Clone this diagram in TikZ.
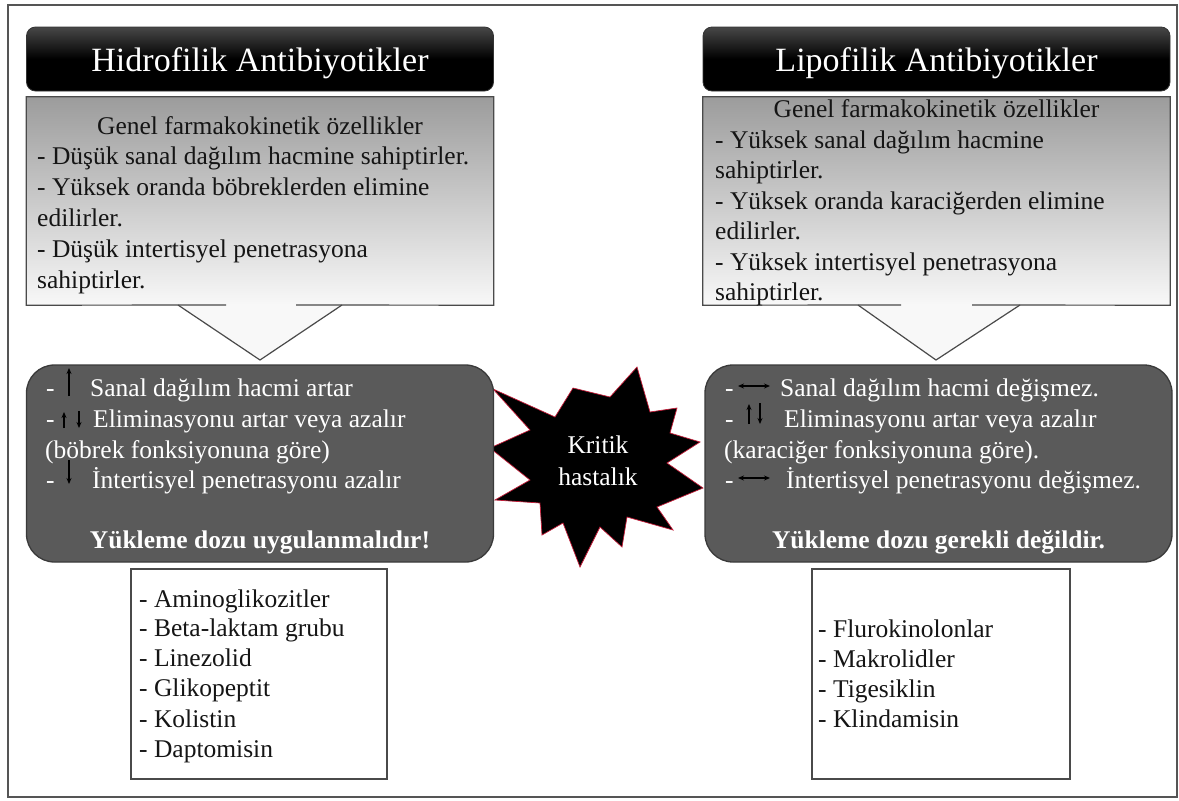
\documentclass[tikz,border=0pt]{standalone}
\usepackage{fontspec}
\setmainfont{Liberation Serif}
\usetikzlibrary{arrows.meta}
\definecolor{framec}{HTML}{555555}
\definecolor{darkfill}{HTML}{5A5A5A}
\definecolor{darkline}{HTML}{3A3A3A}
\definecolor{grayline}{HTML}{4A4A4A}
\definecolor{gtop}{HTML}{9C9C9C}
\definecolor{gbot}{HTML}{F8F8F8}
\definecolor{starred}{HTML}{C41E3A}
\definecolor{inktext}{HTML}{151515}
\tikzset{
  txt/.style={inner sep=0pt, anchor=base west, text=inktext, font=\fontsize{25.5}{30}\selectfont},
  ctxt/.style={txt, anchor=base},
  wtxt/.style={txt, text=white},
  wctxt/.style={ctxt, text=white},
  titlebox/.style={rectangle, rounded corners=9pt, top color=black!72, bottom color=black, middle color=black, draw=black!80, line width=0.8pt, minimum width=467pt, minimum height=64pt, inner sep=0pt},
  titletxt/.style={inner sep=0pt, anchor=base, text=white, font=\fontsize{34}{40}\selectfont},
  graybox/.style={rectangle, top color=gtop, bottom color=gbot, minimum width=467pt, minimum height=208pt, inner sep=0pt},
  darkbox/.style={rectangle, rounded corners=28pt, fill=darkfill, draw=darkline, line width=1.3pt, minimum width=467pt, minimum height=197pt, inner sep=0pt},
  listbox/.style={rectangle, fill=white, draw=grayline, line width=1.5pt, inner sep=0pt},
  outline/.style={draw=grayline, line width=1.2pt},
  arr/.style={-{Stealth[length=6pt,width=5pt]}, line width=1.4pt, black},
  darr/.style={{Stealth[length=6pt,width=5pt]}-{Stealth[length=6pt,width=5pt]}, line width=1.4pt, black},
}
\begin{document}
\begin{tikzpicture}[x=1pt,y=-1pt]
\useasboundingbox (0,0) rectangle (1179,801);
\fill[white] (0,0) rectangle (1179,801);
\draw[framec, line width=1.6pt] (8,5) rectangle (1177,797);

% ---------- titles ----------
\node[titlebox] (ltitle) at (260,59) {};
\node[titletxt] (ltitletxt) at (260,71) {Hidrofilik Antibiyotikler};
\node[titlebox] (rtitle) at (936.5,59) {};
\node[titletxt] (rtitletxt) at (936.5,71) {Lipofilik Antibiyotikler};

% ---------- left gray callout ----------
\node[graybox] (lgray) at (260,201) {};
\fill[gbot] (178,305) -- (260,360) -- (342,305) -- cycle;
\draw[outline] (226,305) -- (lgray.south west) -- (lgray.north west) -- (lgray.north east) -- (lgray.south east) -- (296,305);
\draw[outline] (178,305) -- (260,360) -- (342,305);
\node[ctxt] (lg0) at (260,134) {Genel farmakokinetik özellikler};
\node[txt] (lg1) at (37,164) {- Düşük sanal dağılım hacmine sahiptirler.};
\node[txt] (lg2) at (37,195) {- Yüksek oranda böbreklerden elimine};
\node[txt] (lg3) at (37,226) {edilirler.};
\node[txt] (lg4) at (37,257) {- Düşük intertisyel penetrasyona};
\node[txt] (lg5) at (37,288) {sahiptirler.};

% ---------- right gray callout ----------
\node[graybox] (rgray) at (936.5,201) {};
\fill[gbot] (858,305) -- (936,360) -- (1020,305) -- cycle;
\draw[outline] (901,305) -- (rgray.south west) -- (rgray.north west) -- (rgray.north east) -- (rgray.south east) -- (972,305);
\draw[outline] (858,305) -- (936,360) -- (1020,305);
\node[ctxt] (rg0) at (936.5,117) {Genel farmakokinetik özellikler};
\node[txt] (rg1) at (715,148) {- Yüksek sanal dağılım hacmine};
\node[txt] (rg2) at (715,178) {sahiptirler.};
\node[txt] (rg3) at (715,209) {- Yüksek oranda karaciğerden elimine};
\node[txt] (rg4) at (715,239) {edilirler.};
\node[txt] (rg5) at (715,270) {- Yüksek intertisyel penetrasyona};
\node[txt] (rg6) at (715,300) {sahiptirler.};

% ---------- star ----------
\filldraw[fill=black, draw=starred, line width=0.7pt]
  (637,367) -- (650,412) -- (677,408) -- (670,433) -- (700,442) -- (667,463)
  -- (703,488) -- (657,507) -- (673,530) -- (627,517) -- (622,547) -- (600,527)
  -- (580,567) -- (563,523) -- (542,535) -- (540,503) -- (495,500) -- (530,480)
  -- (490,448) -- (530,430) -- (493,389) -- (555,417) -- (573,388) -- (610,397) -- cycle;
\node[wctxt] (star1) at (598,453) {Kritik};
\node[wctxt] (star2) at (598,485) {hastalık};

% ---------- left dark box ----------
\node[darkbox] (ldark) at (260,463.5) {};
\node[wtxt] (ld1a) at (46,396) {-};
\node[wtxt] (ld1) at (90,396) {Sanal dağılım hacmi artar};
\node[wtxt] (ld2a) at (46,427) {-};
\node[wtxt] (ld2) at (93,427) {Eliminasyonu artar veya azalır};
\node[wtxt] (ld3) at (45,458) {(böbrek fonksiyonuna göre)};
\node[wtxt] (ld4a) at (46,488) {-};
\node[wtxt] (ld4) at (92,488) {İntertisyel penetrasyonu azalır};
\node[wctxt, font=\fontsize{25.5}{30}\selectfont\bfseries] (ld5) at (260,548) {Yükleme dozu uygulanmalıdır!};
\coordinate (la1s) at (69,396); \coordinate (la1e) at (69,368);
\coordinate (la2s) at (64,428); \coordinate (la2e) at (64,412);
\coordinate (la3s) at (79,411); \coordinate (la3e) at (79,428);
\coordinate (la4s) at (69,460); \coordinate (la4e) at (69,484);
\draw[arr] (la1s) -- (la1e);
\draw[arr] (la2s) -- (la2e);
\draw[arr] (la3s) -- (la3e);
\draw[arr] (la4s) -- (la4e);

% ---------- right dark box ----------
\node[darkbox] (rdark) at (938.5,463.5) {};
\node[wtxt] (rd1a) at (725,396) {-};
\node[wtxt] (rd1) at (780,396) {Sanal dağılım hacmi değişmez.};
\node[wtxt] (rd2a) at (725,427) {-};
\node[wtxt] (rd2) at (784,427) {Eliminasyonu artar veya azalır};
\node[wtxt] (rd3) at (724,458) {(karaciğer fonksiyonuna göre).};
\node[wtxt] (rd4a) at (725,488) {-};
\node[wtxt] (rd4) at (786,488) {İntertisyel penetrasyonu değişmez.};
\node[wctxt, font=\fontsize{25.5}{30}\selectfont\bfseries] (rd5) at (938.5,548) {Yükleme dozu gerekli değildir.};
\coordinate (ra1s) at (738,386); \coordinate (ra1e) at (770,386);
\coordinate (ra2s) at (749,424); \coordinate (ra2e) at (749,404);
\coordinate (ra3s) at (760,403); \coordinate (ra3e) at (760,424);
\coordinate (ra4s) at (738,478); \coordinate (ra4e) at (770,478);
\draw[darr] (ra1s) -- (ra1e);
\draw[arr] (ra2s) -- (ra2e);
\draw[arr] (ra3s) -- (ra3e);
\draw[darr] (ra4s) -- (ra4e);

% ---------- lists ----------
\node[listbox, minimum width=256pt, minimum height=210pt] (llist) at (259,674) {};
\node[txt] (ll1) at (139,607) {- Aminoglikozitler};
\node[txt] (ll2) at (139,636) {- Beta-laktam grubu};
\node[txt] (ll3) at (139,666) {- Linezolid};
\node[txt] (ll4) at (139,696) {- Glikopeptit};
\node[txt] (ll5) at (139,727) {- Kolistin};
\node[txt] (ll6) at (139,757) {- Daptomisin};

\node[listbox, minimum width=258pt, minimum height=210pt] (rlist) at (941,674) {};
\node[txt] (rl1) at (818,637) {- Flurokinolonlar};
\node[txt] (rl2) at (818,667) {- Makrolidler};
\node[txt] (rl3) at (818,697) {- Tigesiklin};
\node[txt] (rl4) at (818,727) {- Klindamisin};
\end{tikzpicture}
\end{document}
